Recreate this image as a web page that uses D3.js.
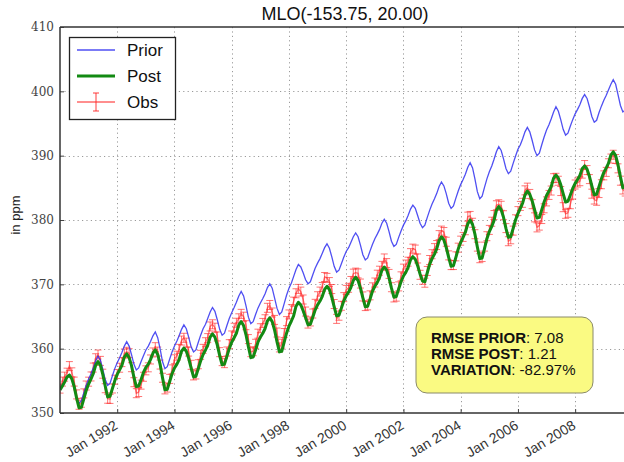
<!DOCTYPE html>
<html>
<head>
<meta charset="utf-8">
<script src="https://cdn.jsdelivr.net/npm/d3@7/dist/d3.min.js"></script>
<style>
  body { margin: 0; background: #fff; }
  svg { display: block; }
</style>
</head>
<body>
<svg id="chart" width="624" height="462"></svg>
<script>
// ---- data: monthly CO2 at MLO, Jan 1990 .. Dec 2009 (ppm) ----
const firstMonth = new Date(1990, 0, 1);
const lastMonth = new Date(2009, 11, 1);
const yTicks = [350, 360, 370, 380, 390, 400, 410];
const xTickYears = [1992, 1994, 1996, 1998, 2000, 2002, 2004, 2006, 2008];
const titleText = "MLO(-153.75, 20.00)";
const seriesNames = ["Prior", "Post", "Obs"];
const statLabels = ["RMSE PRIOR", "RMSE POST", "VARIATION"];
const statValues = ["7.08", "1.21", "-82.97%"];

const prior = [
  353.7,354.4,355.0,355.7,356.0,355.3,354.0,352.4,351.5,351.9,353.1,354.3,
  355.3,356.1,357.0,358.1,358.85,358.2,356.8,355.2,354.3,354.6,355.8,356.9,
  357.8,358.6,359.4,360.4,361.1,360.4,359.1,357.6,356.7,357.0,358.0,358.9,
  359.8,360.4,361.1,362.0,362.6,361.7,360.0,358.0,356.9,357.2,358.4,359.5,
  360.4,361.2,362.0,363.0,363.7,363.1,361.8,360.3,359.5,359.8,361.0,362.1,
  363.1,363.8,364.7,365.7,366.4,365.8,364.5,363.0,362.1,362.4,363.6,364.7,
  365.6,366.4,367.2,368.2,368.9,368.2,366.7,364.9,363.9,364.2,365.3,366.3,
  367.1,367.8,368.5,369.5,370.1,369.4,367.9,366.3,365.3,365.7,367.0,368.3,
  369.4,370.2,371.2,372.3,373.1,372.7,371.8,370.7,370.1,370.4,371.5,372.5,
  373.3,374.0,374.8,375.7,376.3,375.6,374.3,372.8,371.9,372.2,373.2,374.2,
  375.1,375.7,376.5,377.4,378.0,377.4,376.1,374.6,373.8,374.1,375.2,376.2,
  377.1,377.8,378.5,379.5,380.1,379.5,378.2,376.7,375.9,376.2,377.3,378.3,
  379.2,379.9,380.7,381.7,382.3,381.8,380.7,379.5,378.8,379.2,380.4,381.5,
  382.5,383.3,384.1,385.2,385.9,385.3,384.1,382.6,381.8,382.2,383.4,384.5,
  385.5,386.3,387.1,388.2,388.9,388.1,386.4,384.4,383.3,383.7,385.1,386.4,
  387.5,388.4,389.4,390.6,391.4,390.8,389.5,388.0,387.2,387.6,388.8,389.9,
  391.0,391.7,392.6,393.7,394.4,393.7,392.4,390.9,390.0,390.4,391.7,392.9,
  394.0,394.8,395.7,396.8,397.6,396.9,395.6,394.1,393.2,393.5,394.6,395.6,
  396.5,397.2,397.9,398.9,399.5,398.9,397.6,396.1,395.2,395.5,396.7,397.7,
  398.6,399.4,400.2,401.1,401.8,401.1,399.5,397.8,396.8,397.1,398.0,399.0
];

const post = [
  353.6,354.2,354.8,355.6,355.9,355.3,354.1,352.3,350.8,350.9,352.2,353.5,
  354.5,355.3,356.1,357.4,358.0,357.4,356.0,354.2,352.5,352.6,353.8,355.0,
  356.0,356.7,357.4,358.7,359.2,358.6,357.4,355.6,354.1,354.2,355.2,356.3,
  357.1,357.6,358.3,359.3,359.8,359.1,357.6,355.5,353.6,353.7,354.9,356.1,
  357.0,357.6,358.3,359.6,360.1,359.6,358.5,357.0,355.6,355.7,356.9,358.1,
  359.1,359.8,360.5,361.8,362.3,361.8,360.6,358.9,357.5,357.6,358.8,360.0,
  361.0,361.7,362.4,363.7,364.2,363.6,362.2,360.3,358.6,358.7,359.8,361.0,
  361.8,362.4,363.1,364.3,364.8,364.2,362.9,361.1,359.5,359.6,361.0,362.4,
  363.5,364.3,365.1,366.6,367.2,366.8,365.9,364.8,363.7,363.8,364.9,366.0,
  366.8,367.4,368.1,369.2,369.7,369.2,368.0,366.5,365.1,365.2,366.3,367.4,
  368.2,368.8,369.5,370.6,371.1,370.6,369.4,367.9,366.5,366.6,367.7,368.9,
  369.7,370.3,371.0,372.2,372.7,372.2,371.0,369.4,368.0,368.1,369.3,370.4,
  371.3,371.9,372.6,373.8,374.3,373.9,372.9,371.6,370.5,370.4,371.8,373.1,
  374.0,374.7,375.5,376.8,377.4,376.9,375.7,374.2,372.8,372.9,374.2,375.5,
  376.5,377.3,378.1,379.4,380.0,379.3,377.8,375.8,374.0,374.1,375.6,377.1,
  378.2,379.0,379.9,381.5,382.1,381.6,380.4,378.7,377.3,377.4,378.7,380.0,
  381.0,381.8,382.6,383.9,384.5,384.0,383.0,381.6,380.3,380.4,381.6,382.8,
  383.8,384.5,385.2,386.5,387.0,386.5,385.5,384.1,382.8,382.9,383.9,384.9,
  385.7,386.3,386.9,388.0,388.4,387.9,386.8,385.3,383.9,384.0,385.2,386.4,
  387.4,388.1,388.8,390.1,390.6,390.0,388.6,386.7,385.0,385.1,386.4,387.6
];

const obs = [
  353.79,354.88,355.65,356.27,357.29,356.32,354.88,352.89,351.28,351.59,353.05,354.27,
  354.87,355.68,357.06,358.51,359.09,358.10,356.11,353.85,352.22,352.19,353.81,355.18,
  356.06,357.04,357.91,359.25,359.52,359.30,357.12,354.79,353.08,353.26,354.41,355.63,
  356.63,357.10,358.32,359.41,360.23,359.55,357.53,355.48,353.67,353.95,355.30,356.78,
  358.35,358.91,359.97,361.26,361.69,360.94,359.55,357.49,355.84,355.99,357.58,359.04,
  359.97,361.00,361.64,363.45,363.79,363.26,361.90,359.46,358.06,357.75,359.56,360.70,
  362.05,363.25,364.03,364.72,365.41,364.97,363.65,361.49,359.46,359.60,360.76,362.33,
  363.18,364.00,364.57,366.35,366.79,365.62,364.47,362.51,360.19,360.77,362.43,364.28,
  365.32,366.15,367.31,368.61,369.29,368.87,367.64,365.77,363.90,364.23,365.46,366.97,
  368.15,368.87,369.59,371.14,371.00,370.35,369.27,366.94,364.63,365.12,366.67,368.01,
  369.14,369.46,370.52,371.66,371.82,371.70,370.12,368.12,366.62,366.73,368.29,369.53,
  370.28,371.50,372.12,372.87,374.02,373.30,371.62,369.55,367.96,368.09,369.68,371.24,
  372.44,373.08,373.52,374.85,375.55,375.40,374.02,371.48,370.71,370.25,372.08,373.78,
  374.68,375.63,376.11,377.65,378.35,378.13,376.62,374.50,372.99,373.00,374.35,375.70,
  376.79,377.37,378.41,380.52,380.63,379.57,377.79,375.86,374.06,374.24,375.86,377.48,
  378.46,379.73,380.77,382.29,382.45,382.21,380.74,378.74,376.70,377.00,378.35,380.11,
  381.38,382.19,382.67,384.61,385.03,384.05,382.46,380.41,378.85,379.13,380.15,381.82,
  382.89,383.90,384.58,386.50,386.56,386.10,384.50,381.99,380.96,381.12,382.45,383.95,
  385.52,385.82,386.03,387.21,388.54,387.76,386.36,384.09,383.18,382.99,384.19,385.56,
  386.94,387.48,388.82,389.55,390.14,389.48,388.03,386.11,384.74,384.43,386.02,387.42
];
const obsErr = 0.7; // half-width of the observation error bars (ppm)

// ---- layout ----
const svg = d3.select("#chart");
const margin = { left: 60, top: 27, right: 630, bottom: 413 };
const colors = { prior: "#3030f0", post: "#138a13", obs: "#ff2a2a" };
const sans = "'Liberation Sans', Arial, sans-serif";

const months = d3.timeMonth.range(firstMonth, d3.timeMonth.offset(lastMonth, 1));
const x = d3.scaleTime().domain([firstMonth, lastMonth]).range([margin.left, margin.right]);
const y = d3.scaleLinear().domain([350, 410]).range([margin.bottom, margin.top]);

svg.append("defs").append("clipPath").attr("id", "plotClip")
  .append("rect")
  .attr("x", margin.left).attr("y", margin.top)
  .attr("width", margin.right - margin.left).attr("height", margin.bottom - margin.top);

// ---- grid ----
const grid = svg.append("g").attr("stroke", "#9a9a9a").attr("stroke-width", 1)
  .attr("stroke-dasharray", "1.2,3.2");
const xTickDates = xTickYears.map(yr => new Date(yr, 0, 1));
grid.selectAll("line.gx").data(xTickDates).join("line")
  .attr("x1", d => Math.round(x(d)) + 0.5).attr("x2", d => Math.round(x(d)) + 0.5)
  .attr("y1", margin.top).attr("y2", margin.bottom);
grid.selectAll("line.gy").data(yTicks.slice(1, -1)).join("line")
  .attr("x1", margin.left).attr("x2", margin.right)
  .attr("y1", d => Math.round(y(d)) + 0.5).attr("y2", d => Math.round(y(d)) + 0.5);

// ---- series ----
const plot = svg.append("g").attr("clip-path", "url(#plotClip)");
const lineGen = d3.line().x((d, i) => x(months[i])).y(d => y(d));

const obsG = plot.append("g").attr("stroke", colors.obs).attr("stroke-opacity", 0.65)
  .attr("fill", "none").attr("stroke-width", 1);
obsG.selectAll("line.bar").data(obs).join("line")
  .attr("x1", (d, i) => x(months[i])).attr("x2", (d, i) => x(months[i]))
  .attr("y1", d => y(d - obsErr)).attr("y2", d => y(d + obsErr));
obsG.selectAll("line.capTop").data(obs).join("line")
  .attr("x1", (d, i) => x(months[i]) - 3.5).attr("x2", (d, i) => x(months[i]) + 3.5)
  .attr("y1", d => y(d + obsErr)).attr("y2", d => y(d + obsErr));
obsG.selectAll("line.capBot").data(obs).join("line")
  .attr("x1", (d, i) => x(months[i]) - 3.5).attr("x2", (d, i) => x(months[i]) + 3.5)
  .attr("y1", d => y(d - obsErr)).attr("y2", d => y(d - obsErr));
obsG.append("path").datum(obs).attr("d", lineGen).attr("stroke-width", 1.4);

plot.append("path").datum(prior)
  .attr("fill", "none").attr("stroke", colors.prior).attr("stroke-width", 1.3)
  .attr("stroke-opacity", 0.85).attr("d", lineGen);

plot.append("path").datum(post)
  .attr("fill", "none").attr("stroke", colors.post).attr("stroke-width", 3)
  .attr("stroke-linejoin", "round").attr("d", lineGen);

// ---- axes ----
const yAxis = d3.axisLeft(y).tickValues(yTicks).tickSize(-4).tickPadding(6);
const yG = svg.append("g").attr("transform", `translate(${margin.left},0)`).call(yAxis);
yG.select(".domain").remove();
yG.selectAll("line").attr("stroke", "#444");
yG.selectAll("text").attr("font-family", "'DejaVu Serif', serif").attr("font-size", 12)
  .attr("fill", "#444");

const xAxis = d3.axisBottom(x).tickValues(xTickDates).tickSize(-4)
  .tickFormat(d => "Jan " + d.getFullYear());
const xG = svg.append("g").attr("transform", `translate(0,${margin.bottom})`).call(xAxis);
xG.select(".domain").remove();
xG.selectAll("line").attr("stroke", "#444");
xG.selectAll("text")
  .attr("font-family", sans).attr("font-size", 14)
  .attr("fill", "#333")
  .attr("text-anchor", "end")
  .attr("dy", null).attr("y", null)
  .attr("transform", "translate(1,15) rotate(-31)");

// frame
const frame = svg.append("g").attr("stroke", "#333").attr("stroke-width", 1.5).attr("fill", "none");
frame.append("line").attr("x1", margin.left).attr("x2", margin.left).attr("y1", margin.top).attr("y2", margin.bottom);
frame.append("line").attr("x1", margin.left).attr("x2", margin.right).attr("y1", margin.bottom).attr("y2", margin.bottom);
frame.append("line").attr("x1", margin.left).attr("x2", margin.right).attr("y1", margin.top).attr("y2", margin.top);
frame.append("line").attr("x1", margin.right).attr("x2", margin.right).attr("y1", margin.top).attr("y2", margin.bottom);

// title and y label
svg.append("text").attr("x", (margin.left + margin.right) / 2).attr("y", 20)
  .attr("text-anchor", "middle").attr("font-family", sans)
  .attr("font-size", 18).attr("fill", "#111").text(titleText);
svg.append("text").attr("transform", "translate(20,215) rotate(-90)")
  .attr("text-anchor", "middle").attr("font-family", sans)
  .attr("font-size", 13).attr("fill", "#222").text("in ppm");

// ---- legend ----
const lg = svg.append("g").attr("transform", "translate(69,37)");
lg.append("rect").attr("x", 0.5).attr("y", 0.5).attr("width", 106).attr("height", 82)
  .attr("fill", "#fff").attr("stroke", "#222").attr("stroke-width", 1.3);
const legendRows = [13, 39, 65];
lg.append("line").attr("x1", 8).attr("x2", 46).attr("y1", legendRows[0]).attr("y2", legendRows[0])
  .attr("stroke", colors.prior).attr("stroke-width", 1.3).attr("stroke-opacity", 0.85);
lg.append("line").attr("x1", 8).attr("x2", 46).attr("y1", legendRows[1]).attr("y2", legendRows[1])
  .attr("stroke", colors.post).attr("stroke-width", 3);
const le = lg.append("g").attr("stroke", colors.obs).attr("stroke-opacity", 0.7).attr("stroke-width", 1.3);
le.append("line").attr("x1", 8).attr("x2", 46).attr("y1", legendRows[2]).attr("y2", legendRows[2]);
le.append("line").attr("x1", 27).attr("x2", 27).attr("y1", legendRows[2] - 9).attr("y2", legendRows[2] + 9);
le.append("line").attr("x1", 24).attr("x2", 30).attr("y1", legendRows[2] - 9).attr("y2", legendRows[2] - 9);
le.append("line").attr("x1", 24).attr("x2", 30).attr("y1", legendRows[2] + 9).attr("y2", legendRows[2] + 9);
lg.selectAll("text").data(seriesNames).join("text")
  .attr("x", 58).attr("y", (d, i) => legendRows[i] + 6)
  .attr("font-family", sans).attr("font-size", 17)
  .attr("fill", "#111").text(d => d);

// ---- statistics box ----
const sb = svg.append("g");
sb.append("rect").attr("x", 416).attr("y", 317).attr("width", 177).attr("height", 76)
  .attr("rx", 11).attr("ry", 11)
  .attr("fill", "#fafa82").attr("stroke", "#8a8a6a").attr("stroke-width", 1);
const st = sb.selectAll("text").data(statLabels).join("text")
  .attr("x", 431).attr("y", (d, i) => 343 + i * 16)
  .attr("font-family", sans).attr("font-size", 15)
  .attr("fill", "#111");
st.append("tspan").attr("font-weight", "bold").text(d => d);
st.append("tspan").text((d, i) => ": " + statValues[i]);
</script>
</body>
</html>
